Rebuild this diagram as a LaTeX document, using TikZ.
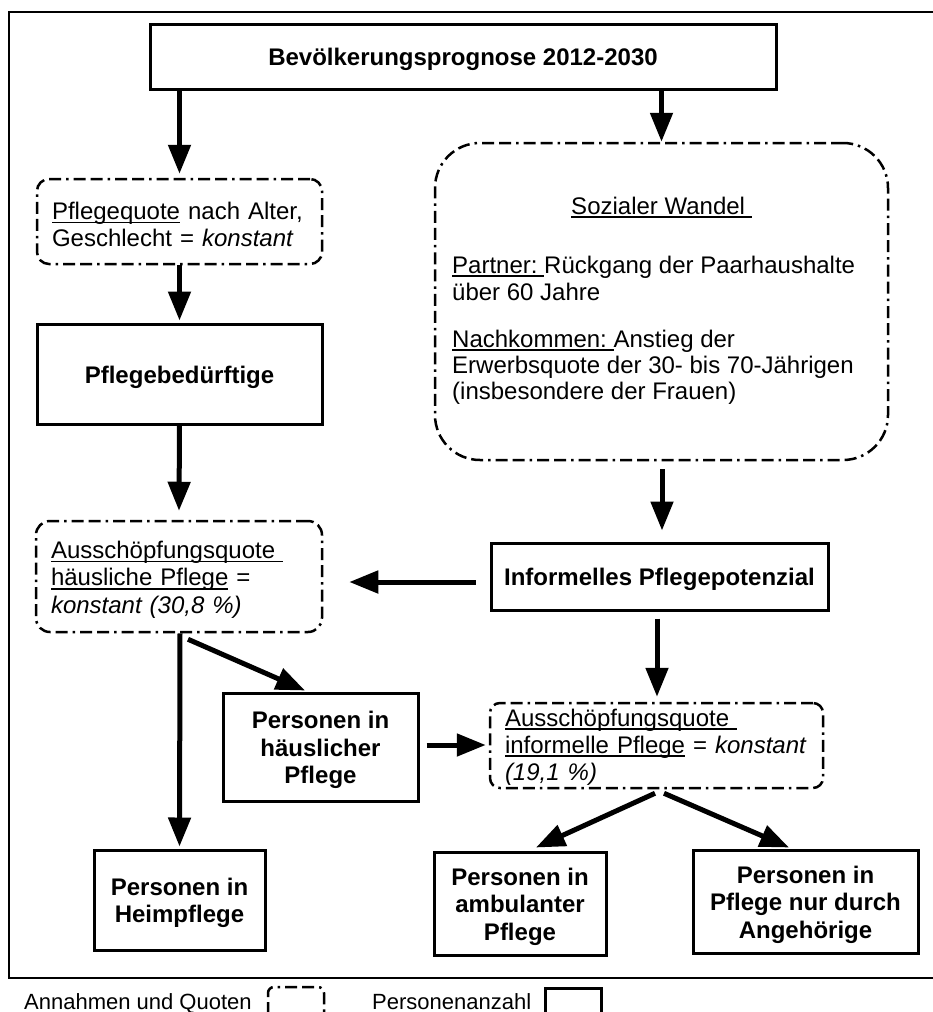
\documentclass[tikz,border=0pt]{standalone}
\usepackage{fontspec}
\setmainfont{Liberation Sans}
\usetikzlibrary{arrows.meta,calc}

\newsavebox\ulbox
\newcommand\myul[1]{\leavevmode\sbox\ulbox{#1}\rlap{\rule[-4pt]{\wd\ulbox}{1.7pt}}\usebox\ulbox}
\newcommand\fs{\fontsize{24}{27.5}\selectfont}
\newcommand\topstrut{\rule{0pt}{23.5pt}}

\tikzset{
  solidbox/.style={draw, line width=3pt, inner sep=0pt, align=center, font=\fs\bfseries},
  assump/.style={draw, line width=2.5pt, inner sep=0pt,
    dash pattern=on 12pt off 5pt on 12pt off 5pt on 2.5pt off 5pt},
  arr/.style={line width=5pt, -{Triangle[width=22pt,length=29pt]}},
  txt/.style={inner sep=0pt, font=\fs},
}

\begin{document}
\begin{tikzpicture}[x=1pt,y=-1pt,font=\fs]
\useasboundingbox (0,0) rectangle (932,1012);
\draw[line width=2pt] (934,12) -- (9,12) -- (9,978) -- (934,978);

% nodes
\node[solidbox, minimum width=626, minimum height=65] (title) at (463,56.5) {\topstrut Bevölkerungsprognose 2012-2030};

\node[assump, rounded corners=12, minimum width=285, minimum height=85, text width=255, align=left]
  (pq) at (179.5,221.5) {\topstrut\myul{Pflegequote} nach Alter,\\ Geschlecht = \textit{konstant}};

\node[solidbox, minimum width=285, minimum height=100] (pb) at (179.5,374) {\topstrut Pflegebedürftige};

\node[assump, rounded corners=14, minimum width=286, minimum height=111, text width=256, align=left]
  (ah) at (179,576.5) {\topstrut\myul{Ausschöpfungsquote\ }\\ \myul{häusliche Pflege} =\\ \textit{konstant (30,8 \%)}};

\node[assump, rounded corners=45, minimum width=453, minimum height=317] (sw) at (661.5,301.5) {};
\node[txt, anchor=base] (sw1) at (661.5,214) {\myul{Sozialer Wandel\ }};
\node[txt, anchor=base west] (sw2) at (452,273) {\myul{Partner:\ }Rückgang der Paarhaushalte};
\node[txt, anchor=base west] (sw3) at (452,300) {über 60 Jahre};
\node[txt, anchor=base west] (sw4) at (452,347) {\myul{Nachkommen:\ }Anstieg der};
\node[txt, anchor=base west] (sw5) at (452,373) {Erwerbsquote der 30- bis 70-Jährigen};
\node[txt, anchor=base west] (sw6) at (452,399) {(insbesondere der Frauen)};

\node[solidbox, minimum width=337, minimum height=67] (ip) at (659.5,576.5) {\topstrut Informelles Pflegepotenzial};

\node[assump, rounded corners=10, minimum width=333, minimum height=85, text width=303, align=left,
  font=\fontsize{24}{27}\selectfont]
  (ai) at (656.5,745.5) {\rule{0pt}{20pt}\myul{Ausschöpfungsquote\ }\\ \myul{informelle Pflege} = \textit{konstant}\\ \textit{(19,1 \%)}};

\node[solidbox, minimum width=195, minimum height=108] (ph) at (320.5,747) {\topstrut Personen in\\häuslicher\\Pflege};
\node[solidbox, minimum width=171, minimum height=100] (hp) at (179.5,900) {\topstrut Personen in\\Heimpflege};
\node[solidbox, minimum width=172, minimum height=103] (pa) at (520,903.5) {\topstrut Personen in\\ambulanter\\Pflege};
\node[solidbox, minimum width=225, minimum height=103] (pn) at (805.5,901.5) {\topstrut Personen in\\Pflege nur durch\\Angehörige};

% connectors
\draw[arr] (title.south -| pq.north) -- ($(pq.north)+(0,-4)$);
\draw[arr] (title.south -| sw.north) -- (sw.north);
\draw[arr] (pq.south) -- ($(pb.north)+(0,-2)$);
\draw[arr] (pb.south) -- ($(ah.north)+(0,-9)$);
\draw[arr] ($(sw.south)+(0.5,8)$) -- ($(ip.north)+(2.5,-11)$);
\draw[arr] ($(ip.west)+(-14,5.5)$) -- ($(ah.east)+(26,5.5)$);
\draw[arr] ($(ah.south)+(1,0)$) -- ($(hp.north)+(0,-2)$);
\draw[arr] ($(ah.south)+(9,6)$) -- ($(ph.north)+(-15.5,-1)$);
\draw[arr] ($(ph.east)+(7,-2)$) -- ($(ai.west)+(-3,-0.5)$);
\draw[arr] ($(ip.south)+(-2.5,7)$) -- ($(ai.north)+(0.5,-5)$);
\draw[arr] ($(ai.south)+(-1.5,4)$) -- ($(pa.north)+(16,-3)$);
\draw[arr] ($(ai.south)+(7.5,4)$) -- ($(pn.north)+(-16.5,-1)$);

% legend
\node[txt, anchor=base west, font=\fontsize{22}{26}\selectfont] (leg1) at (24,1009) {Annahmen und Quoten};
\draw[line width=2.5pt, dash pattern=on 12pt off 5pt on 12pt off 5pt on 2.5pt off 5pt, rounded corners=6]
  (268,1014) -- (268,987) -- (324,987) -- (324,1014);
\node[txt, anchor=base west, font=\fontsize{22}{26}\selectfont] (leg2) at (372,1009) {Personenanzahl};
\draw[line width=3pt] (545,1014) -- (545,988) -- (601,988) -- (601,1014);
\end{tikzpicture}
\end{document}
